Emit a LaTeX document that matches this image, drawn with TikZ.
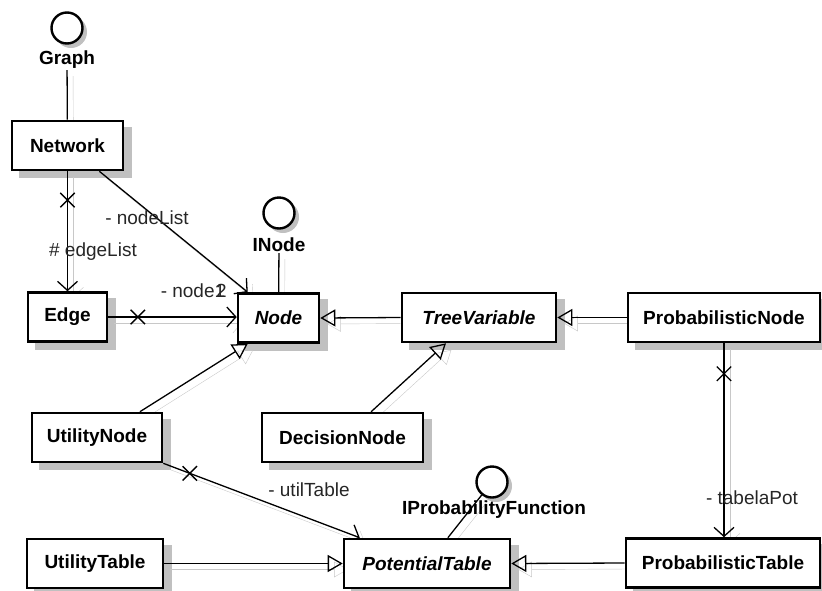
\documentclass[tikz,border=0pt]{standalone}
\usepackage{fontspec}
\setmainfont{Liberation Sans}
\usetikzlibrary{arrows.meta,shapes.misc,backgrounds}
\definecolor{shadowgray}{RGB}{192,192,192}
\definecolor{ghostgray}{RGB}{200,200,200}
\newcommand{\umlfont}{\fontsize{19}{22}\selectfont}
\tikzstyle{classbox} = [draw=black, fill=white, line width=2.6pt, rectangle, minimum height=49pt, inner sep=0pt, font=\umlfont\bfseries]
\tikzstyle{abstractbox} = [classbox, font=\umlfont\bfseries\itshape]
\tikzstyle{iface} = [draw=black, fill=white, circle, line width=2.4pt, minimum size=31pt, inner sep=0pt]
\tikzstyle{ifacename} = [font=\umlfont\bfseries, inner sep=1pt]
\tikzstyle{role} = [font=\umlfont, text=black!85, inner sep=1pt]
\tikzstyle{boxshadow} = [fill=shadowgray]
\tikzstyle{link} = [line width=1.3pt, preaction={draw=ghostgray, transform canvas={xshift=6pt, yshift=-6pt}}]
\tikzstyle{inherit} = [link, -{Triangle[open, length=15pt, width=17pt, line width=1.3pt]}]
\tikzstyle{assoc} = [link, -{Straight Barb[length=9pt, width=20pt, line width=1.3pt]}]
\tikzstyle{xmark} = [cross out, draw=black, line width=1.4pt, minimum size=13pt, inner sep=0pt]

\begin{document}
\begin{tikzpicture}[x=1pt, y=-1pt]
\useasboundingbox (0,0) rectangle (822,590);
% classes
\node [classbox, minimum width=111pt] (network) at (67.5,145.5) {Network};
\node [classbox, minimum width=79pt] (edge) at (67.5,317) {Edge};
\node [abstractbox, minimum width=81pt] (node) at (278.5,318) {Node};
\node [abstractbox, minimum width=154pt] (treevar) at (479,317.5) {TreeVariable};
\node [classbox, minimum width=192pt] (probnode) at (724,317.5) {ProbabilisticNode};
\node [classbox, minimum width=130pt] (utilnode) at (97,437.5) {UtilityNode};
\node [classbox, minimum width=161pt] (decnode) at (342.5,437.5) {DecisionNode};
\node [classbox, minimum width=136pt] (utiltable) at (95,563.5) {UtilityTable};
\node [abstractbox, minimum width=166pt] (pottable) at (427,563.5) {PotentialTable};
\node [classbox, minimum width=194pt] (probtable) at (723,563) {ProbabilisticTable};
% interfaces
\node [iface] (graph) at (67,28) {};
\node [ifacename] (graphname) at (67,60) {Graph};
\node [iface] (inode) at (279,213) {};
\node [ifacename] (inodename) at (279,245) {INode};
\node [iface] (ipf) at (492,482) {};
\node [ifacename] (ipfname) at (494,510) {IProbabilityFunction};
\begin{scope}[on background layer]
% shadows
\foreach \nm in {network,edge,node,treevar,probnode,utilnode,decnode,utiltable,pottable,probtable}
  \fill [boxshadow] ([shift={(8pt,-7pt)}]\nm.south west) rectangle ([shift={(8pt,-7pt)}]\nm.north east);
\foreach \nm in {graph,inode,ipf}
  \fill [boxshadow] ([shift={(4pt,-4pt)}]\nm.center) circle (16pt);
\draw [link] (graphname) -- (network);
\draw [link] (inodename) -- (node);
\draw [link] (ipf) -- (pottable.51);
% generalisations
\draw [inherit] (treevar.west) -- (node.east);
\draw [inherit] (probnode.west) -- (treevar.east);
\draw [inherit] (utilnode.31.5) -- (node.220);
\draw [inherit] (decnode.42) -- (treevar.218);
\draw [inherit] (utiltable.east) -- (pottable.west);
\draw [inherit] (probtable.west) -- (pottable.east);
% associations
\draw [assoc] (network.south) -- node[xmark, pos=.24]{} (edge.north);
\draw [assoc] (network.-39) -- (node.140.5);
\draw [assoc] (edge.east) -- node[xmark, pos=.23]{} (edge.east -| node.west);
\draw [assoc] (utilnode.south east) -- node[xmark, pos=.135]{} (pottable.159);
\draw [assoc] (probnode.south) -- node[xmark, pos=.157]{} (probnode.south |- probtable.north);
\end{scope}
% roles
\node [role] (edgelist) at (93,252) {\# edgeList};
\node [role] (nodelist) at (147,218) {- nodeList};
\node [role] (nodeone) at (193,291) {- node1};
\node [role] (nodetwo) at (194.5,291) {\phantom{- node}2};
\node [role] (utillabel) at (309,490) {- utilTable};
\node [role] (potlabel) at (752,498) {- tabelaPot};
\end{tikzpicture}
\end{document}
